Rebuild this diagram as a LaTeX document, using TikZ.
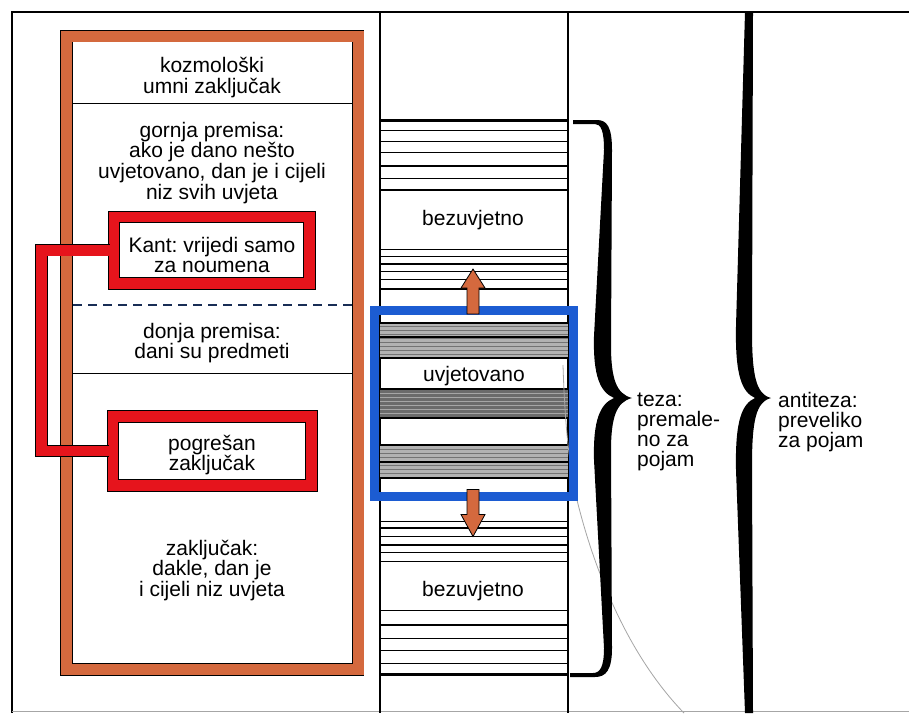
\documentclass[tikz,border=0pt]{standalone}
\usepackage{fontspec}
\setmainfont{Liberation Sans}
\usetikzlibrary{calc}
\frenchspacing
\definecolor{frameorange}{RGB}{212,105,62}
\definecolor{boxred}{RGB}{230,20,28}
\definecolor{condblue}{RGB}{28,92,210}
\definecolor{dashnavy}{RGB}{25,45,85}
\definecolor{curvegray}{RGB}{165,165,165}
\newcommand\ctext[1]{\vtop{\halign{\hfil##\hfil\cr #1\crcr}}}
\newcommand\ltext[1]{\vtop{\halign{##\hfil\cr #1\crcr}}}
\begin{document}
\begin{tikzpicture}[x=1pt,y=-1pt,
  txt/.style={font=\fontsize{21}{20.7}\selectfont, inner sep=0, anchor=base},
  sidetxt/.style={font=\fontsize{21}{20.3}\selectfont, inner sep=0, anchor=base west},
  redbox/.style={draw=black, line width=0.9, double=boxred, double distance=10.5, inner sep=0},
  conn/.style={draw=black, line width=0.9, double=boxred, double distance=10.5, line join=miter},
  framebox/.style={draw=black, line width=0.9, double=frameorange, double distance=11},
  condbox/.style={draw=condblue, line width=9, inner sep=0},
  stripe/.style={line width=1.1, black},
  heavy/.style={line width=3, black},
  finestripe/.style={line width=0.6, black!55},
  fatarrow/.style={draw=black, line width=0.8, fill=frameorange, line join=miter},
  bracefill/.style={fill=black},
]
\useasboundingbox (0,0) rectangle (909,713);
\fill[white] (0,0) rectangle (909,713);

% outer frame and column lines
\draw[line width=1.2] (909,12) -- (12,12) -- (12,713);
\draw[line width=1, black!35] (12,711) -- (909,711);
\draw[line width=1.2] (380,12) -- (380,713);
\draw[line width=1.2] (568,12) -- (568,713);

% left column: orange frame
\draw[framebox] (66.5,36) rectangle (358,669.5);
\draw[line width=1] (73,103) -- (352,103);
\draw[line width=1] (73,373) -- (352,373);
\draw[dashnavy, line width=2, dash pattern=on 9 off 6] (73,305) -- (352,305);

\node[txt] (cosmo) at (212,72.7) {\ctext{kozmološki\cr umni zaključak}};
\node[txt] (major) at (212,137) {\ctext{gornja premisa:\cr ako je dano nešto\cr uvjetovano, dan je i cijeli\cr niz svih uvjeta}};
\node[txt] (minor) at (212,338) {\ctext{donja premisa:\cr dani su predmeti}};
\node[txt] (concl) at (212,555) {\ctext{zaključak:\cr dakle, dan je\cr i cijeli niz uvjeta}};

% red boxes and connector
\node[redbox, minimum width=195.5, minimum height=66.5] (kant) at (211.75,250.25) {};
\node[redbox, minimum width=198.5, minimum height=69] (pogr) at (212.25,451) {};
\draw[conn] ([xshift=-4pt]kant.west) -- ++(-68,0) |- ([xshift=-4pt]pogr.west);
\node[txt] (kanttxt) at (212,252) {\ctext{Kant: vrijedi samo\cr za noumena}};
\node[txt] (pogrtxt) at (212,450) {\ctext{pogrešan\cr zaključak}};

% middle column stripes
\draw[heavy] (380,120) -- (568,120);
\draw[heavy] (380,674) -- (568,674);
\foreach \y in {130.7,141.7,152.3,166,178.3,190,249.3,256.7,264,271.7,279.3,289,521.7,528,536.7,545,552.7,561.7,610.7,625,638.3,650.7,663.3}
  \draw[stripe] (380,\y) -- (568,\y);

% bands inside the conditioned box
\fill[black!30] (380,323) rectangle (568,358);
\foreach \y in {326.5,330.5,334.5,338.5,342.5,346.5,350.5,354.5}
  \draw[finestripe] (380,\y) -- (568,\y);
\draw[line width=1.2] (380,337) -- (568,337);
\draw[line width=1.8] (380,323) -- (568,323);
\draw[line width=1.8] (380,358) -- (568,358);

\fill[black!58] (380,389) rectangle (568,418);
\foreach \y in {393,397,401,405,409,413}
  \draw[line width=0.6, black!35] (380,\y) -- (568,\y);
\draw[line width=2.2] (380,389) -- (568,389);
\draw[line width=2.2] (380,418) -- (568,418);

\fill[black!30] (380,445) rectangle (568,478);
\foreach \y in {449,453,457,461,465,469,473}
  \draw[finestripe] (380,\y) -- (568,\y);
\draw[line width=1.2] (380,462) -- (568,462);
\draw[line width=1.8] (380,445) -- (568,445);
\draw[line width=1.8] (380,478) -- (568,478);

% thin curve
\draw[curvegray, line width=0.8] (563,365) .. controls (565,430) and (570,470) .. (577,500) .. controls (588,545) and (618,645) .. (684,713);

% conditioned box
\node[condbox, minimum width=199, minimum height=186] (cond) at (474,403.5) {};

\node[txt] (bez1) at (473,225) {bezuvjetno};
\node[txt] (uvj) at (474,381.7) {uvjetovano};
\node[txt] (bez2) at (473,596.7) {bezuvjetno};

% orange arrows
\draw[fatarrow] ($(cond.north)+(-7,8)$) -- ++(0,-26) -- ++(-6,0) -- ++(12,-19) -- ++(12,19) -- ++(-6,0) -- ++(0,26) -- cycle;
\draw[fatarrow] ($(cond.south)+(-7,-11.5)$) -- ++(0,25) -- ++(-6,0) -- ++(12,22) -- ++(12,-22) -- ++(-6,0) -- ++(0,-25) -- cycle;

% teza brace
\fill[bracefill] (573,120) -- (597,120) .. controls (607,120) and (612,127) .. (612,150)
  -- (611,345) .. controls (611,378) and (616,394) .. (632,398)
  .. controls (616,402) and (611,418) .. (611,451)
  -- (612,648) .. controls (612,670) and (606,677) .. (595,677) -- (570,677) -- (570,673) -- (593,673)
  .. controls (600,673) and (604,667) .. (604,648)
  -- (594,460) .. controls (593,420) and (600,404) .. (614,398)
  .. controls (600,392) and (593,376) .. (594,336)
  -- (604,150) .. controls (604,131) and (601,124) .. (595,124) -- (573,124) -- cycle;
\node[sidetxt] (teza) at (637,406) {\ltext{teza:\cr premale-\cr no za\cr pojam}};

% antiteza brace
\fill[bracefill] (745,12) -- (753,12) -- (752,330) .. controls (752,376) and (756,394) .. (771,398)
  .. controls (756,402) and (752,420) .. (752,466) -- (753,713) -- (745,713)
  -- (736,470) .. controls (735,420) and (742,404) .. (755,398)
  .. controls (742,392) and (735,376) .. (736,326) -- cycle;
\node[sidetxt] (antiteza) at (778,407) {\ltext{antiteza:\cr preveliko\cr za pojam}};
\end{tikzpicture}
\end{document}
